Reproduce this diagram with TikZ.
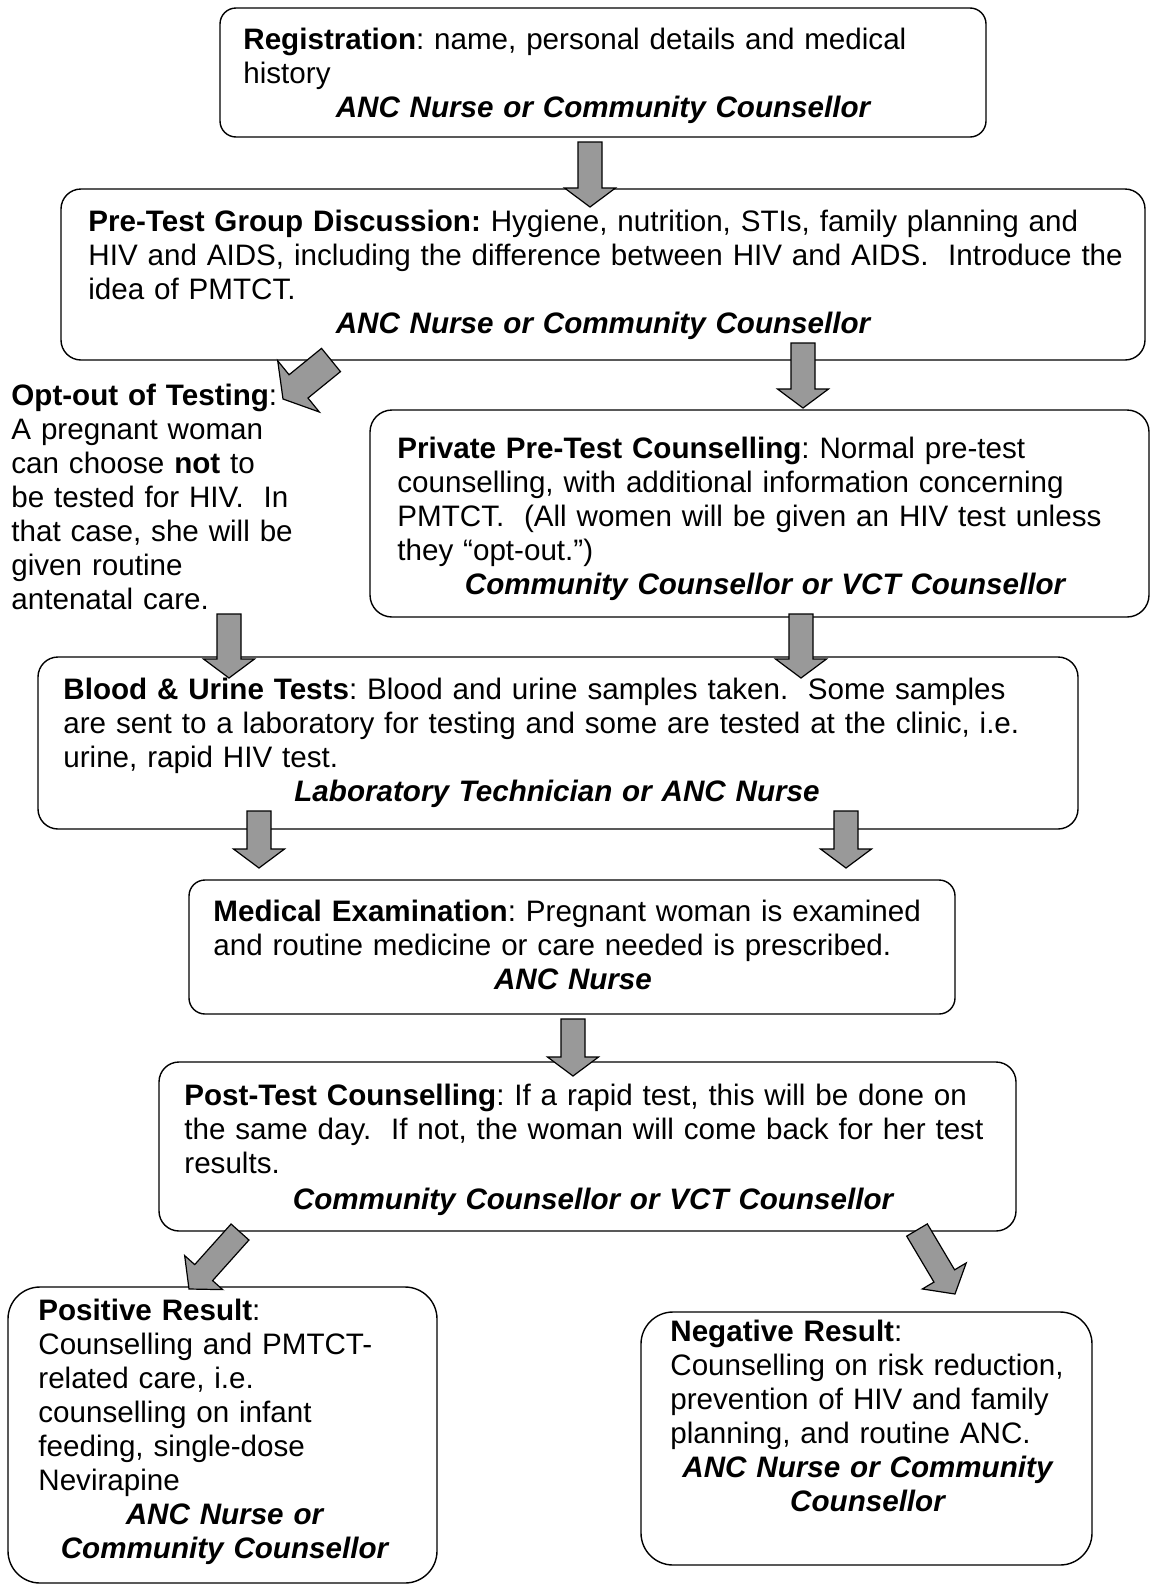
\documentclass[tikz,border=0pt]{standalone}
\usepackage{fontspec}
\setmainfont{Liberation Sans}
\usetikzlibrary{calc}
\definecolor{arrowgray}{RGB}{153,153,153}
\tikzset{
  box/.style={draw=black, line width=0.7pt, inner sep=0pt, outer sep=0pt},
  bodytext/.style={anchor=base west, inner sep=0pt, text width=#1, align=left,
    font=\fontsize{14.8}{17}\selectfont\frenchspacing},
  roletext/.style={anchor=base, inner sep=0pt, text width=#1, align=center,
    font=\fontsize{14.8}{17}\selectfont\bfseries\itshape},
  barrow/.style={fill=arrowgray, draw=black, line width=0.6pt, line join=miter}
}
% box: name, x1, y1, x2, y2, corner radius
\newcommand{\pbox}[6]{\node[box, rounded corners=#6, anchor=north west,
  minimum width={(#4-#2)*0.5pt}, minimum height={(#5-#3)*0.5pt}] (#1) at (#2,#3) {};}
% block arrow: tail, tip, shaft half width, head half width, head length
\newcommand{\blockarrow}[5]{%
  \coordinate (bah) at ($(#2)!#5!(#1)$);
  \filldraw[barrow] ($(#1)!#3!90:(#2)$) -- ($(bah)!#3!90:(#2)$) -- ($(bah)!#4!90:(#2)$)
    -- (#2) -- ($(bah)!#4!-90:(#2)$) -- ($(bah)!#3!-90:(#2)$) -- ($(#1)!#3!-90:(#2)$) -- cycle;}
\begin{document}
\begin{tikzpicture}[x=0.5pt, y=-0.5pt]
\useasboundingbox (0,0) rectangle (1151,1585);
% boxes
\pbox{reg}{220}{8}{986}{137}{8pt}
\pbox{pre}{61}{189}{1145}{360}{10pt}
\pbox{priv}{370}{410}{1149}{617}{11pt}
\pbox{blood}{38}{657}{1078}{829}{10pt}
\pbox{med}{189}{880}{955}{1014}{8pt}
\pbox{post}{159}{1062}{1016}{1231}{10pt}
\pbox{pos}{8}{1287}{437}{1583}{16pt}
\pbox{neg}{641}{1312}{1092}{1565}{16pt}
% texts
\node[bodytext=700pt] (regt) at (243,49) {\textbf{Registration}: name, personal details and medical\\history};
\node[roletext=500pt] (regr) at (603,117) {ANC Nurse or Community Counsellor};
\node[bodytext=700pt] (pret) at (88,231) {\textbf{Pre-Test Group Discussion:} Hygiene, nutrition, STIs, family planning and\\HIV and AIDS, including the difference between HIV and AIDS.\ \ Introduce the\\idea of PMTCT.};
\node[roletext=500pt] (prer) at (603,333) {ANC Nurse or Community Counsellor};
\node[bodytext=300pt] (optt) at (11,405) {\textbf{Opt-out of Testing}:\\A pregnant woman\\can choose \textbf{not} to\\be tested for HIV.\ \ In\\that case, she will be\\given routine\\antenatal care.};
\node[bodytext=500pt] (privt) at (397,458) {\textbf{Private Pre-Test Counselling}: Normal pre-test\\counselling, with additional information concerning\\PMTCT.\ \ (All women will be given an HIV test unless\\they “opt-out.”)};
\node[roletext=500pt] (privr) at (765,594) {Community Counsellor or VCT Counsellor};
\node[bodytext=700pt] (bloodt) at (63,699) {\textbf{Blood \& Urine Tests}: Blood and urine samples taken.\ \ Some samples\\are sent to a laboratory for testing and some are tested at the clinic, i.e.\\urine, rapid HIV test.};
\node[roletext=500pt] (bloodr) at (557,801) {Laboratory Technician or ANC Nurse};
\node[bodytext=500pt] (medt) at (213,921) {\textbf{Medical Examination}: Pregnant woman is examined\\and routine medicine or care needed is prescribed.};
\node[roletext=300pt] (medr) at (573,989) {ANC Nurse};
\node[bodytext=500pt] (postt) at (184,1105) {\textbf{Post-Test Counselling}: If a rapid test, this will be done on\\the same day.\ \ If not, the woman will come back for her test\\results.};
\node[roletext=500pt] (postr) at (593,1209) {Community Counsellor or VCT Counsellor};
\node[bodytext=250pt] (post) at (38,1320) {\textbf{Positive Result}:\\Counselling and PMTCT-\\related care, i.e.\\counselling on infant\\feeding, single-dose\\Nevirapine};
\node[roletext=250pt] (posr) at (224.5,1524) {ANC Nurse or\\Community Counsellor};
\node[bodytext=250pt] (negt) at (670,1341) {\textbf{Negative Result}:\\Counselling on risk reduction,\\prevention of HIV and family\\planning, and routine ANC.};
\node[roletext=250pt] (negr) at (867.5,1477) {ANC Nurse or Community\\Counsellor};
% arrow end points
\coordinate (a1s) at (590,142);  \coordinate (a1e) at (590,207);
\coordinate (a2s) at (331,360);  \coordinate (a2e) at (283,399);
\coordinate (a3s) at (803,343);  \coordinate (a3e) at (803,408);
\coordinate (a4s) at (229,614);  \coordinate (a4e) at (229,678);
\coordinate (a5s) at (801,614);  \coordinate (a5e) at (801,678);
\coordinate (a6s) at (259,811);  \coordinate (a6e) at (259,868);
\coordinate (a7s) at (846,811);  \coordinate (a7e) at (846,868);
\coordinate (a8s) at (573,1019); \coordinate (a8e) at (573,1076);
\coordinate (a9s) at (240,1232); \coordinate (a9e) at (189,1289);
\coordinate (a10s) at (917,1230); \coordinate (a10e) at (955,1294);
% arrows
\blockarrow{a1s}{a1e}{6pt}{12.75pt}{9.5pt}
\blockarrow{a2s}{a2e}{7.5pt}{16.5pt}{10pt}
\blockarrow{a3s}{a3e}{6pt}{12.75pt}{9.5pt}
\blockarrow{a4s}{a4e}{6pt}{12.75pt}{9.5pt}
\blockarrow{a5s}{a5e}{6pt}{12.75pt}{9.5pt}
\blockarrow{a6s}{a6e}{6pt}{12.75pt}{9.5pt}
\blockarrow{a7s}{a7e}{6pt}{12.75pt}{9.5pt}
\blockarrow{a8s}{a8e}{6pt}{12.75pt}{9.5pt}
\blockarrow{a9s}{a9e}{6pt}{12.75pt}{11pt}
\blockarrow{a10s}{a10e}{6pt}{12.75pt}{10.5pt}
\end{tikzpicture}
\end{document}
